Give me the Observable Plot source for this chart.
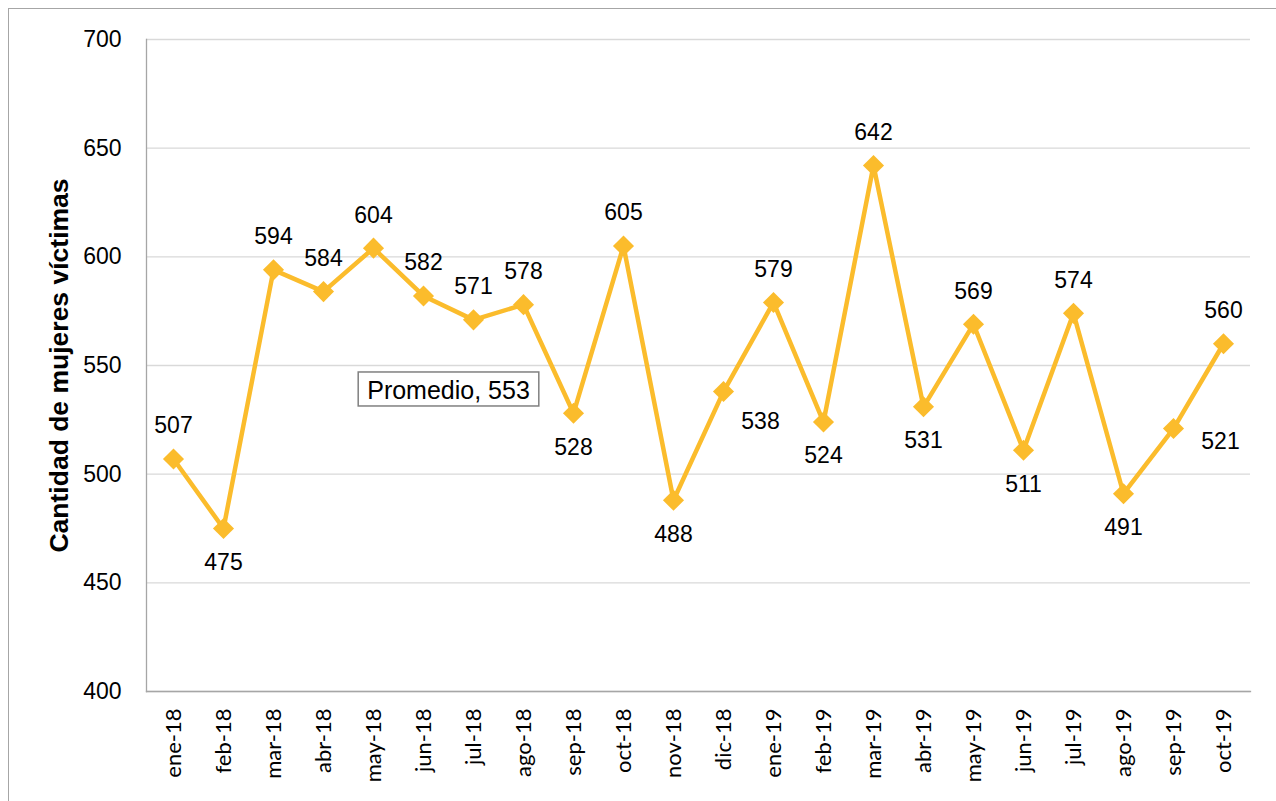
<!DOCTYPE html>
<html>
<head>
<meta charset="utf-8">
<script src="https://cdn.jsdelivr.net/npm/d3@7"></script>
<script src="https://cdn.jsdelivr.net/npm/@observablehq/plot@0.6"></script>
<style>
  html, body { margin: 0; padding: 0; background: #fff; }
  #wrap { position: relative; width: 1276px; height: 801px; overflow: hidden; }
  #border { position: absolute; left: 8px; top: 8px; width: 1300px; height: 900px; border: 1px solid #a6a6a6; pointer-events: none; }
</style>
</head>
<body>
<div id="wrap"><div id="chart"></div><div id="border"></div></div>
<script>
const months = ["ene-18","feb-18","mar-18","abr-18","may-18","jun-18","jul-18","ago-18","sep-18","oct-18","nov-18","dic-18",
                "ene-19","feb-19","mar-19","abr-19","may-19","jun-19","jul-19","ago-19","sep-19","oct-19"];
const values = [507,475,594,584,604,582,571,578,528,605,488,538,579,524,642,531,569,511,574,491,521,560];
const labelPlacement = ["above","below","above","above","above","above","above","above","below","above","below","belowRight",
                        "above","below","above","below","above","below","above","below","right","above"];
const average = 553;
const averageLabel = "Promedio, 553";
const yTicks = [400,450,500,550,600,650,700];
const yTitle = "Cantidad de mujeres víctimas";

const data = months.map((m, i) => ({month: m, value: values[i], place: labelPlacement[i]}));
const gold = "#FBBC2C";
const font = "Liberation Sans, Arial, sans-serif";

const textOpts = (place, dx, dy) => Plot.text(data.filter(d => d.place === place), {
  x: "month", y: "value", text: d => String(d.value), dx, dy,
  fontSize: 23, fill: "#000", fontFamily: font
});

const chart = Plot.plot({
  width: 1276, height: 801,
  marginLeft: 146, marginRight: 26, marginTop: 39, marginBottom: 110,
  style: {fontFamily: font, background: "transparent"},
  x: {type: "point", domain: months, padding: 0.5, label: null},
  y: {domain: [400, 700], ticks: yTicks, label: null},
  marks: [
    Plot.gridY(yTicks, {stroke: "#d9d9d9", strokeOpacity: 1, strokeWidth: 1.3}),
    Plot.frame({anchor: "left", stroke: "#a6a6a6", strokeWidth: 1.3}),
    Plot.frame({anchor: "bottom", stroke: "#a6a6a6", strokeWidth: 1.3}),
    Plot.axisY(yTicks, {tickSize: 0, tickPadding: 25, fontSize: 23, fill: "#000", fontFamily: font}),
    Plot.axisX(months, {tickSize: 0, tickPadding: 17, tickRotate: -90, fontSize: 22, fill: "#000", fontFamily: "Lato, sans-serif", textAnchor: "end"}),
    Plot.text([yTitle], {frameAnchor: "left", textAnchor: "middle", lineAnchor: "middle", rotate: -90, dx: -87, fontSize: 26.5, fontWeight: "bold", fill: "#000", fontFamily: font}),
    Plot.ruleY([average], {x1: months[0], x2: months[months.length - 1], stroke: "#7f7f7f", strokeWidth: 3.5}),
    Plot.line(data, {x: "month", y: "value", stroke: gold, strokeWidth: 4.5}),
    Plot.dot(data, {x: "month", y: "value", symbol: "diamond2", r: 9.5, fill: gold, stroke: "none"}),
    textOpts("above", 0, -33),
    textOpts("below", 0, 34),
    textOpts("belowRight", 37, 30),
    textOpts("right", 47, 13),
    Plot.text([averageLabel], {x: () => months[5], y: () => average, dx: 25, dy: 32, fontSize: 25, fill: "#000", fontFamily: font, className: "avg-label"})
  ]
});
document.getElementById("chart").appendChild(chart);

// box behind the average label
const t = chart.querySelector(".avg-label text");
if (t) {
  const bb = t.getBBox();
  const g = t.parentNode;
  const rect = document.createElementNS("http://www.w3.org/2000/svg", "rect");
  rect.setAttribute("x", bb.x - 9);
  rect.setAttribute("y", bb.y - 4);
  rect.setAttribute("width", bb.width + 18);
  rect.setAttribute("height", bb.height + 6);
  rect.setAttribute("fill", "#fff");
  rect.setAttribute("stroke", "#808080");
  rect.setAttribute("stroke-width", "1.5");
  const tr = t.getAttribute("transform");
  if (tr) rect.setAttribute("transform", tr);
  g.insertBefore(rect, t);
}
</script>
</body>
</html>
